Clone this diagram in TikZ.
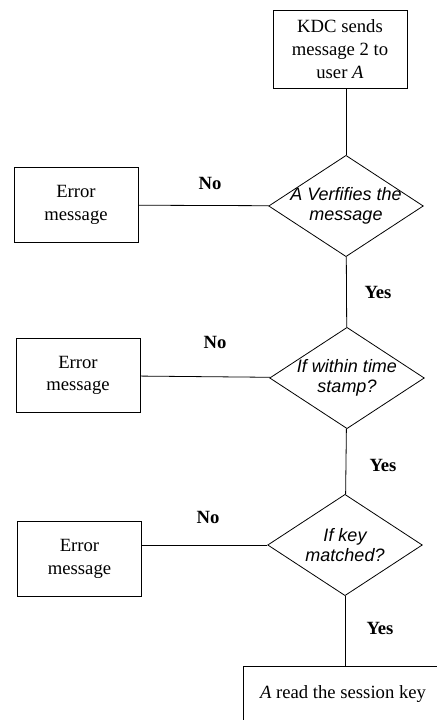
\documentclass[tikz,border=0pt]{standalone}
\usepackage{fontspec}
\setmainfont{Liberation Serif}
\newfontfamily\arialfont{Liberation Sans}
\usetikzlibrary{shapes.geometric}
\begin{document}
\begin{tikzpicture}[x=0.75pt,y=-0.75pt,
        box/.style={rectangle,draw=black,line width=0.6pt,
          inner sep=0pt,align=center,font=\fontsize{14}{17}\selectfont},
        errbox/.style={box,minimum width=93pt,minimum height=56pt},
        decision/.style={diamond,draw=black,line width=0.6pt,
          inner sep=0pt,minimum width=116pt,minimum height=76pt},
        dtext/.style={align=center,
          font=\arialfont\itshape\fontsize{13.5}{15}\selectfont},
        answer/.style={font=\bfseries\fontsize{14}{17}\selectfont}]
      \useasboundingbox (0,0) rectangle (436,720);
      \node (kdc) at (340,49) [box,minimum width=100.5pt,minimum height=58.5pt]
        {KDC sends\\message 2 to\\user \textit{A}};
      \node (ver) at (346,206) [decision,
        label={[dtext]center:{A Verfifies the\\message}}] {};
      \node (chk) at (347,378) [decision,
        label={[dtext]center:{If within time\\stamp?}}] {};
      \node (key) at (345,545) [decision,
        label={[dtext]center:{If key\\matched?}}] {};
      \node (err1) at (76,205) [errbox] {Error\\message};
      \node (err2) at (78,375.5) [errbox] {Error\\message};
      \node (err3) at (79.5,559) [errbox] {Error\\message};
      \node (read) at (343,694) [box,minimum width=150pt,minimum height=42pt]
        {\textit{A} read the session key};
      % answers
      \node (no1) at (210,183) [answer] {No};
      \node (no2) at (215,342) [answer] {No};
      \node (no3) at (208,517) [answer] {No};
      \node (yes1) at (378,292) [answer] {Yes};
      \node (yes2) at (383,465) [answer] {Yes};
      \node (yes3) at (380,628) [answer] {Yes};
      % connectors
      \draw[line width=0.6pt] (ver.north |- kdc.south) -- (ver.north);
      \draw[line width=0.6pt] (err1) edge[-] (ver);
      \draw[line width=0.6pt] (ver) edge[-] (chk);
      \draw[line width=0.6pt] (err2) edge[-] (chk);
      \draw[line width=0.6pt] (chk) edge[-] (key);
      \draw[line width=0.6pt] (key.west -| err3.east) -- (key.west);
      \draw[line width=0.6pt] (key.south) -- (key.south |- read.north);
\end{tikzpicture}
\end{document}
